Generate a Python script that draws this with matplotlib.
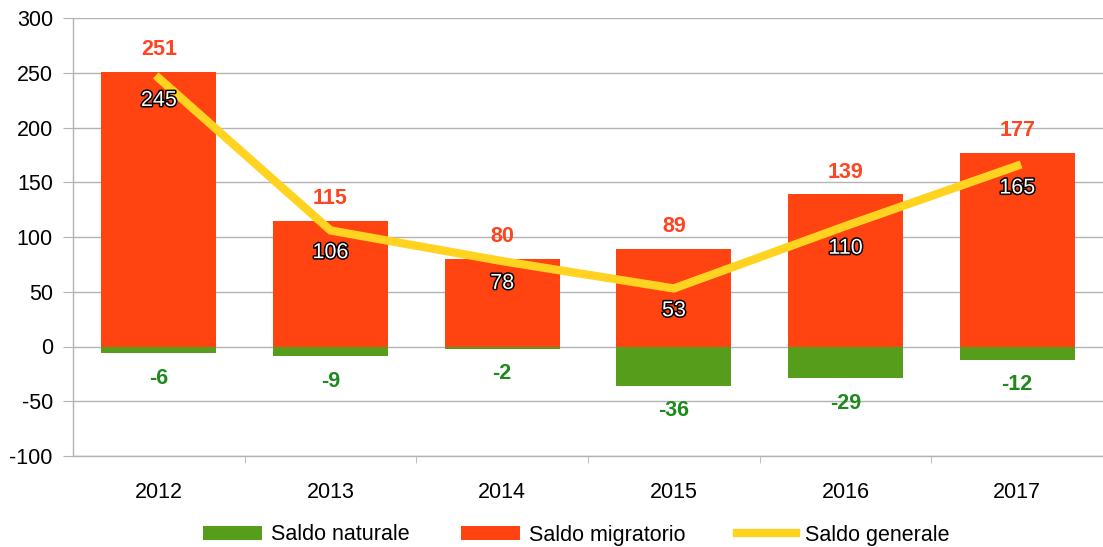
import matplotlib
matplotlib.use("Agg")
import matplotlib.pyplot as plt
import matplotlib.patheffects as pe
import numpy as np

years = ["2012", "2013", "2014", "2015", "2016", "2017"]
saldo_naturale = [-6, -9, -2, -36, -29, -12]
saldo_migratorio = [251, 115, 80, 89, 139, 177]
saldo_generale = [245, 106, 78, 53, 110, 165]

plt.rcParams['font.family'] = ['Liberation Sans', 'DejaVu Sans']
plt.rcParams['axes.unicode_minus'] = False

fig = plt.figure(figsize=(11.03, 5.47), dpi=100)
ax = fig.add_axes([73/1103, 1-456/547, 1030/1103, 438/547])

x = np.arange(len(years))
green = "#579D1C"
orange = "#FF4411"
yellow = "#FFD320"
grid = "#B3B3B3"
fs = 15.5

bw = 0.67
b1 = ax.bar(x, saldo_naturale, bw, color=green, label="Saldo naturale", zorder=2)
b2 = ax.bar(x, saldo_migratorio, bw, color=orange, label="Saldo migratorio", zorder=2)
l1, = ax.plot(x, saldo_generale, color=yellow, lw=6, label="Saldo generale", zorder=3,
              solid_joinstyle='miter')

ax.set_xlim(-0.5, len(years) - 0.5)
ax.set_ylim(-100, 300)
ax.set_yticks(np.arange(-100, 301, 50))
ax.set_xticks(x)
ax.set_xticklabels(years)
ax.set_xticks(np.arange(0.5, len(years) - 0.5, 1), minor=True)
ax.yaxis.grid(True, color=grid, lw=1, zorder=0)
ax.set_axisbelow(True)
for s in ["top", "right"]:
    ax.spines[s].set_visible(False)
for s in ["left", "bottom"]:
    ax.spines[s].set_color(grid)
    ax.spines[s].set_linewidth(1)
ax.tick_params(axis='y', length=7.5, color=grid, labelsize=fs, pad=7, labelcolor="#000000")
ax.tick_params(axis='x', which='major', length=0, labelsize=fs, pad=19)
ax.tick_params(axis='x', which='minor', length=5, color=grid)

for xi, v in zip(x, saldo_migratorio):
    ax.annotate(str(v), (xi, v), xytext=(0, 16), textcoords='offset points',
                ha='center', va='center', color="#FF4420", fontsize=fs, fontweight='bold')
for xi, v in zip(x, saldo_naturale):
    ax.annotate(str(v), (xi, v), xytext=(0, -18), textcoords='offset points',
                ha='center', va='center', color="#1E8A1E", fontsize=fs, fontweight='bold')
for xi, v in zip(x, saldo_generale):
    ax.annotate(str(v), (xi, v), xytext=(0, -16), textcoords='offset points',
                ha='center', va='center', color="white", fontsize=fs,
                path_effects=[pe.withStroke(linewidth=2.2, foreground="black")], zorder=5)

leg = fig.legend(handles=[b1, b2, l1], loc='center', bbox_to_anchor=(576/1103, 1 - 535/547),
                 ncol=3, frameon=False, fontsize=fs, handlelength=2.75, handleheight=0.6,
                 columnspacing=2.4, handletextpad=0.4)
fig.savefig("out.png", dpi=100)
